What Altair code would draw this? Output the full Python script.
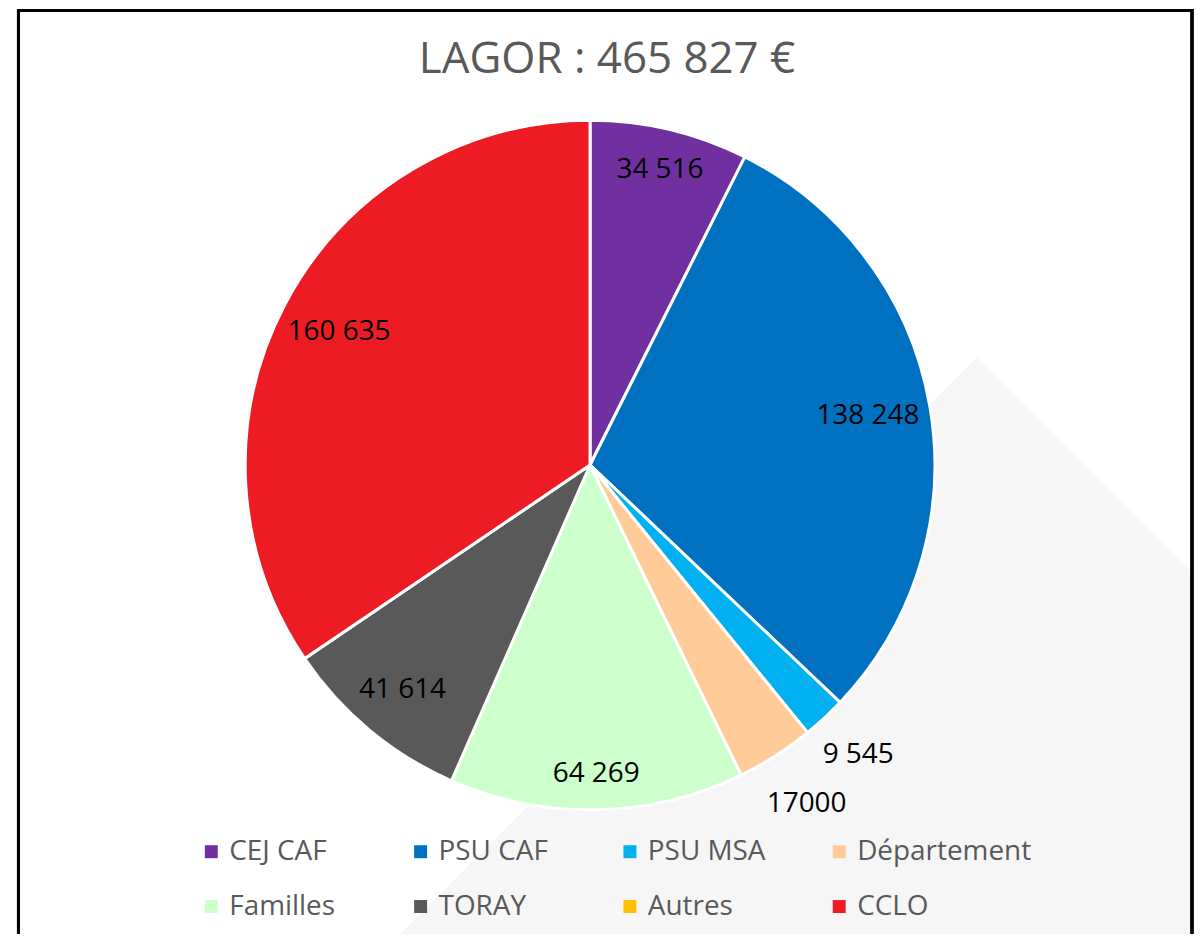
import altair as alt
import pandas as pd

# --- data ---
categories = ["CEJ CAF", "PSU CAF", "PSU MSA", "Département", "Familles", "TORAY", "Autres", "CCLO"]
amounts = [34516, 138248, 9545, 17000, 64269, 41614, 0, 160635]
value_labels = ["34 516", "138 248", "9 545", "17000", "64 269", "41 614", "", "160 635"]
colors = ["#7030A0", "#0070C0", "#00B0F0", "#FFCC99", "#CCFFCC", "#595959", "#FFC000", "#ED1C24"]
label_radius = [304, 283, 396, 404, 310, 294, 0, 285]

# decorative light-grey backdrop shape (pixel space)
deco_x = [387, 972, 1188]
deco_top = [934, 349, 565]
deco_bottom = [934, 934, 934]

W, H = 1190, 926
CX, CY, R = 584, 457, 346

df = pd.DataFrame({
    "cat": categories,
    "value": amounts,
    "lab": value_labels,
    "lr": label_radius,
    "idx": list(range(len(categories))),
})
deco = pd.DataFrame({"x": deco_x, "y": deco_top, "yb": deco_bottom})

backdrop = alt.Chart(deco).mark_area(color="#F6F6F6").encode(
    x=alt.X("x:Q", scale=None, axis=None),
    y=alt.Y("y:Q", scale=None, axis=None),
    y2=alt.Y2("yb:Q"),
)

border = alt.Chart(deco).mark_rect(
    fill=None, filled=False, stroke="#000000", strokeWidth=3
).encode(
    x=alt.value(10.5), x2=alt.value(1188), y=alt.value(1), y2=alt.value(H + 20)
)

color_enc = alt.Color(
    "cat:N",
    scale=alt.Scale(domain=categories, range=colors),
    sort=categories,
    legend=alt.Legend(
        title=None,
        orient="none",
        legendX=190,
        legendY=831,
        direction="horizontal",
        columns=4,
        gridAlign="all",
        columnPadding=3,
        rowPadding=27,
        symbolType="square",
        symbolSize=169,
        symbolStrokeWidth=0,
        labelFont="Open Sans",
        labelFontSize=28,
        labelColor="#595959",
        labelOffset=4,
        labelLimit=400,
        padding=0,
    ),
)

pie = alt.Chart(df).mark_arc(outerRadius=R, stroke="#FFFFFF", strokeWidth=3).encode(
    theta=alt.Theta("value:Q", stack=True),
    order=alt.Order("idx:Q"),
    color=color_enc,
    x=alt.value(CX),
    y=alt.value(CY),
)

text = alt.Chart(df).transform_window(
    cum="sum(value)", sort=[alt.SortField("idx")]
).transform_calculate(
    mid="datum.cum - datum.value / 2"
).mark_text(
    font="Open Sans", fontSize=28, color="#000000", align="center", baseline="middle"
).encode(
    theta=alt.Theta("mid:Q", stack=None),
    radius=alt.Radius("lr:Q", scale=None),
    text="lab:N",
    x=alt.value(CX),
    y=alt.value(CY),
)

chart = alt.layer(backdrop, border, pie, text).properties(
    width=W,
    height=H,
    autosize=alt.AutoSizeParams(type="none"),
    padding=0,
    background="#FFFFFF",
    title=alt.TitleParams(
        "LAGOR : 465 827 €",
        font="Open Sans",
        fontSize=44,
        fontWeight="normal",
        color="#595959",
        anchor="middle",
        frame="group",
        offset=0,
        baseline="alphabetic",
        dx=6,
        dy=108,
    ),
).configure_view(stroke=None)

chart.save("out.html", embed_options={"renderer": "svg", "actions": False})
